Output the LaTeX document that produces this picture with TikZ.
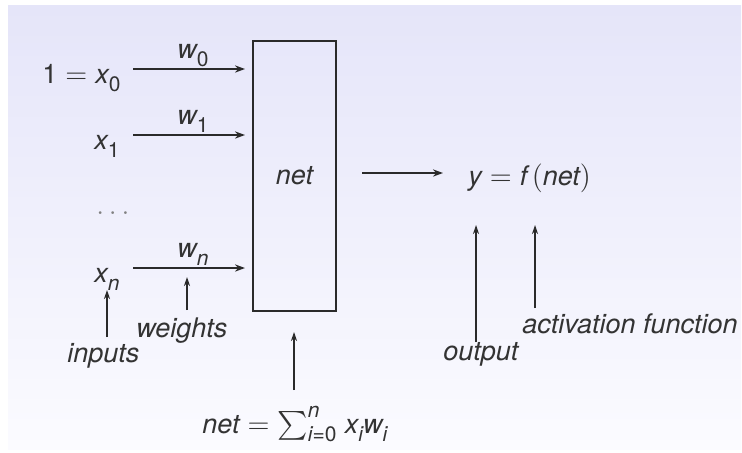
\documentclass[tikz,border=0pt]{standalone}
\usepackage{amsmath}
\usepackage{fontspec}
\setmainfont{TeX Gyre Heros}
\usetikzlibrary{arrows.meta}
\definecolor{ink}{HTML}{2A2A2A}
\definecolor{txt}{HTML}{333333}
\definecolor{bgtop}{RGB}{229,229,249}
\definecolor{bgbot}{RGB}{251,251,255}
\newcommand\lowsub[1]{\raisebox{-0.6ex}{\fontsize{10.5}{10}\selectfont #1}}
\newcommand\smallscr[1]{\mbox{\fontsize{10.5}{10}\selectfont #1}}
\newcommand\meq{$\;=\;$}
\begin{document}
\begin{tikzpicture}[x=0.5pt,y=-0.5pt,
  font=\fontsize{13.5}{16}\selectfont\itshape, text=txt,
  lbl/.style={inner sep=0pt, anchor=base west},
  arr/.style={draw=ink, line width=1.2pt, -{Stealth[length=5pt,width=3.6pt]}},
  note/.style={draw=ink, line width=0.6pt, -{Stealth[length=4.5pt,width=3pt]}},
  netbox/.style={draw=ink, line width=1pt, minimum width=41.5pt, minimum height=135pt, inner sep=0pt}]
\useasboundingbox (0,0) rectangle (742,452);
\shade[top color=bgtop, bottom color=bgbot] (8,5) rectangle (741,449);

% neuron box
\node[netbox] (box) at (294.5,176) {net};

% inputs
\node[lbl] (x0) at (42,83) {\upshape 1\meq\itshape x\lowsub{\upshape 0}};
\node[lbl] (x1) at (94,149) {x\lowsub{\upshape 1}};
\node[lbl, text=gray] (dots) at (96,214) {$\ldots$};
\node[lbl] (xn) at (94,282) {x\lowsub{n}};

% weights
\node[lbl] (w0) at (177,58) {w\lowsub{\upshape 0}};
\node[lbl] (w1) at (177,124) {w\lowsub{\upshape 1}};
\node[lbl] (wn) at (177,257) {w\lowsub{n}};

\coordinate (a0) at (133,69);
\coordinate (a1) at (133,135);
\coordinate (an) at (133,268);
\draw[arr, shorten >=3.5pt] (a0) -- (a0 -| box.west);
\draw[arr, shorten >=3.5pt] (a1) -- (a1 -| box.west);
\draw[arr, shorten >=3.5pt] (an) -- (an -| box.west);

% output
\node[lbl] (y) at (468,185) {y\meq f\,$($net$)$};
\coordinate (o1) at (443,173);
\draw[arr, shorten <=12.5pt] (box.east |- o1) -- (o1);

% annotations
\node[lbl] (inp) at (67,362) {inputs};
\node[lbl] (wts) at (136,337) {weights};
\node[lbl] (sum) at (202,433) {net\meq$\sum\nolimits_{\smallscr{\itshape i\upshape =0}}^{\smallscr{\itshape n}}$\;x\lowsub{i}w\lowsub{i}};
\node[lbl] (outl) at (443,360) {output};
\node[lbl] (act) at (522,333) {activation function};

\coordinate (inB) at (107,337);  \coordinate (inT) at (107,290);
\coordinate (wB) at (187,310);   \coordinate (wT) at (187,277);
\coordinate (nB) at (294,390);   \coordinate (nT) at (294,332);
\coordinate (oB) at (476,342);   \coordinate (oT) at (476,225);
\coordinate (fB) at (535,308);   \coordinate (fT) at (535,225);
\draw[note] (inB) -- (inT);
\draw[note] (wB) -- (wT);
\draw[note] (nB) -- (nT);
\draw[note] (oB) -- (oT);
\draw[note] (fB) -- (fT);
\end{tikzpicture}
\end{document}
